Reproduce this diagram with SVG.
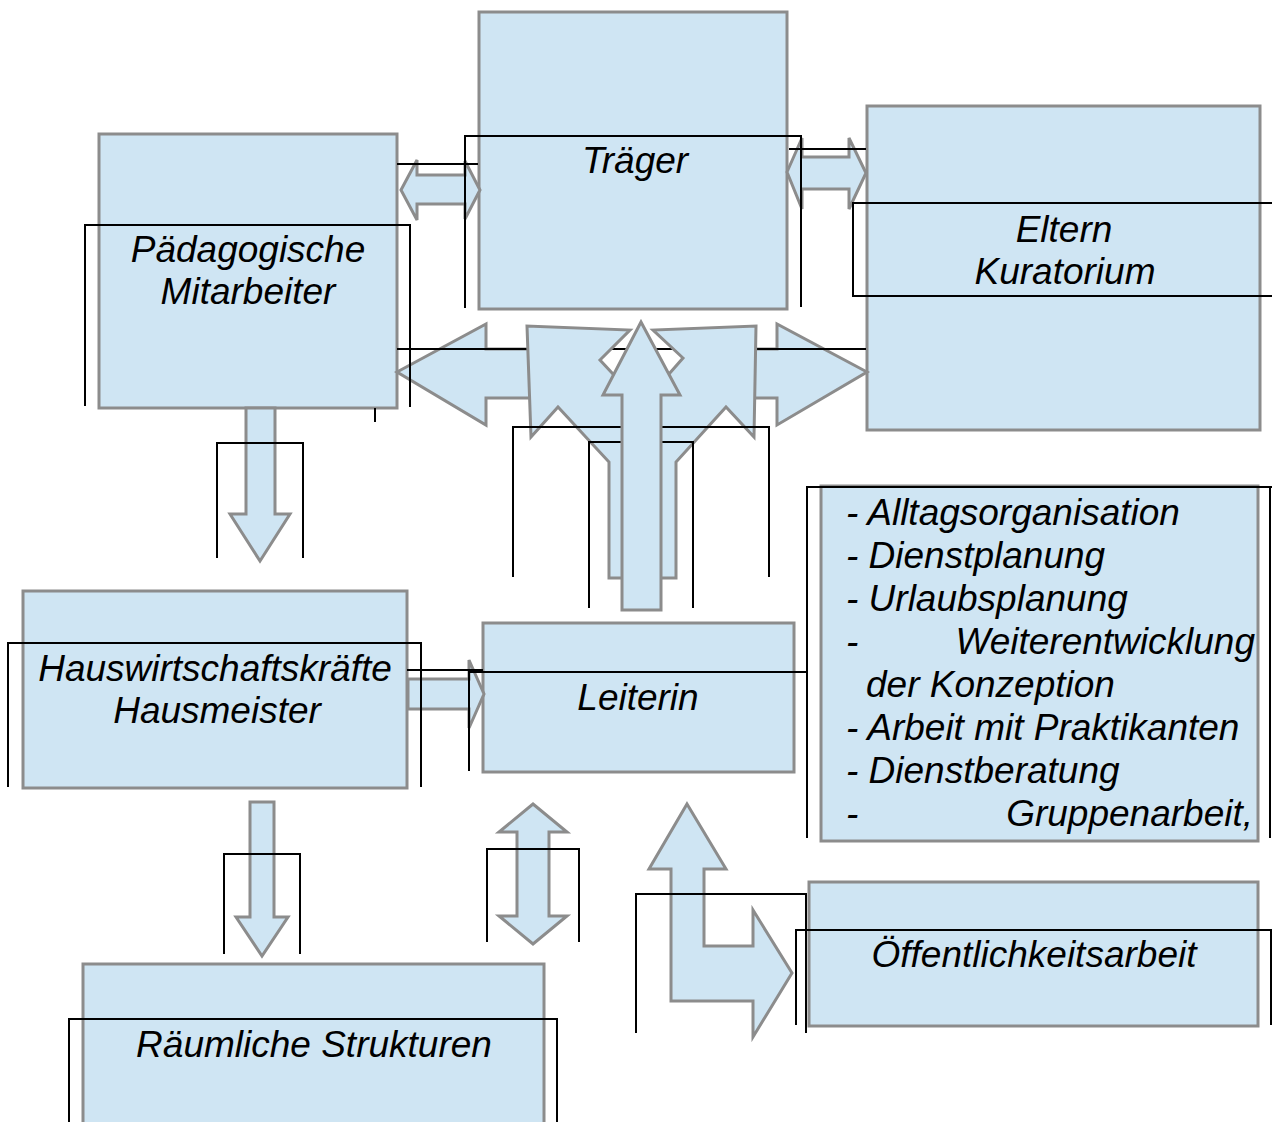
<svg xmlns="http://www.w3.org/2000/svg" width="1272" height="1122" viewBox="0 0 1272 1122">
<style>
.box{fill:#cfe5f3;stroke:#8c8c8c;stroke-width:3}
.arr{fill:#cfe5f3;stroke:#8c8c8c;stroke-width:3;stroke-linejoin:miter}
.fr{fill:none;stroke:#000;stroke-width:2}
.t{font-family:"Liberation Sans",Arial,sans-serif;font-style:italic;font-size:37px;fill:#000}
.c{text-anchor:middle}
</style>
<rect width="1272" height="1122" fill="#fff"/>

<g id="traeger"><rect class="box" x="479" y="12" width="308" height="297"/></g>
<g id="paed"><rect class="box" x="99" y="134" width="298" height="274"/></g>
<g id="eltern"><rect class="box" x="867" y="106" width="393" height="324"/></g>
<g id="hauswirt"><rect class="box" x="23" y="591" width="384" height="197"/></g>
<g id="leiterin"><rect class="box" x="483" y="623" width="311" height="149"/></g>
<g id="aufgaben"><rect class="box" x="821" y="486" width="437" height="355"/></g>
<g id="oeff"><rect class="box" x="809" y="882" width="449" height="144"/></g>
<g id="raum"><rect class="box" x="83" y="964" width="461" height="170"/></g>

<g id="connectors">
  <polygon class="arr" points="401,190 417,160 417,175 465,175 465,161 480,190 465,219 465,204 417,204 417,220"/>
  <polygon class="arr" points="787,172 802,138 802,157 849,157 849,138 866,173 849,209 849,189 802,189 802,209"/>
  <polygon class="arr" points="397,372 486,324 486,349 540,349 540,398 486,398 486,425"/>
  <polygon class="arr" points="867,372 777,324 777,349 740,349 740,398 777,398 777,425"/>
  <line class="fr" x1="397" y1="349" x2="866" y2="349"/>
  <polygon class="arr" points="609,578 609,462 558,407 531,437 527,326 630,330 600,360 613,374 669,374 683,358 653,330 756,326 754,437 726,407 676,462 676,578"/>
  <polyline class="fr" points="513,577 513,427 769,427 769,577"/>
  <polyline class="fr" points="589,608 589,442 693,442 693,608"/>
  <polygon class="arr" points="641,322 680,395 661,395 661,610 622,610 622,395 603,395"/>
  <polygon class="arr" points="246,408 275,408 275,514 290,514 260,561 230,514 246,514"/>
  <polygon class="arr" points="408,679 469,679 469,660 484,694 469,728 469,709 408,709"/>
  <polygon class="arr" points="250,802 274,802 274,917 288,917 262,956 236,917 250,917"/>
  <polygon class="arr" points="533,804 567,832 549,832 549,916 567,916 533,944 499,916 517,916 517,832 499,832"/>
  <polygon class="arr" points="687,804 726,869 704,869 704,946 753,946 753,910 792,973 753,1037 753,1001 671,1001 671,869 649,869"/>

  <polyline class="fr" points="465,308 465,136 801,136 801,307"/>
  <line class="fr" x1="397" y1="164" x2="478" y2="164"/>
  <line class="fr" x1="789" y1="149" x2="866" y2="149"/>
  <polyline class="fr" points="85,406 85,225 410,225 410,407"/>
  <line class="fr" x1="375" y1="408" x2="375" y2="422" stroke-width="1.5"/>
  <polyline class="fr" points="1272,203 853,203 853,296 1272,296"/>
  <polyline class="fr" points="217,558 217,443 303,443 303,558"/>
  <polyline class="fr" points="8,787 8,643 421,643 421,787"/>
  <line class="fr" x1="407" y1="670" x2="483" y2="670"/>
  <polyline class="fr" points="469,771 469,672 807,672 807,771"/>
  <polyline class="fr" points="807,838 807,487 1270,487 1270,838"/>
  <line class="fr" x1="1270" y1="487" x2="1272" y2="487"/>
  <polyline class="fr" points="224,954 224,854 300,854 300,954"/>
  <polyline class="fr" points="487,942 487,849 579,849 579,942"/>
  <polyline class="fr" points="636,1033 636,894 806,894 806,1033"/>
  <polyline class="fr" points="796,1025 796,930 1271,930 1271,1025"/>
  <polyline class="fr" points="69,1122 69,1019 557,1019 557,1122"/>
</g>

<g id="labels">
  <text class="t c" x="635" y="173">Träger</text>
  <text class="t c" x="248" y="262">Pädagogische</text>
  <text class="t c" x="248" y="304">Mitarbeiter</text>
  <text class="t c" x="1064" y="242">Eltern</text>
  <text class="t c" x="1065" y="284">Kuratorium</text>
  <text class="t c" x="215" y="681">Hauswirtschaftskräfte</text>
  <text class="t c" x="217" y="723">Hausmeister</text>
  <text class="t c" x="638" y="710">Leiterin</text>
  <text class="t c" x="1034" y="967">Öffentlichkeitsarbeit</text>
  <text class="t c" x="314" y="1057">Räumliche Strukturen</text>
  <text class="t" x="846" y="525">- Alltagsorganisation</text>
  <text class="t" x="846" y="568">- Dienstplanung</text>
  <text class="t" x="846" y="611">- Urlaubsplanung</text>
  <text class="t" x="846" y="654">-</text>
  <text class="t" x="1255" y="654" text-anchor="end">Weiterentwicklung</text>
  <text class="t" x="866" y="697">der Konzeption</text>
  <text class="t" x="846" y="740">- Arbeit mit Praktikanten</text>
  <text class="t" x="846" y="783">- Dienstberatung</text>
  <text class="t" x="846" y="826">-</text>
  <text class="t" x="1253" y="826" text-anchor="end">Gruppenarbeit,</text>
</g>
</svg>
